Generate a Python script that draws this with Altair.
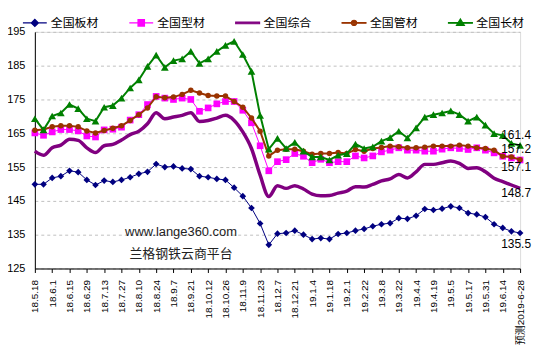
import altair as alt
import pandas as pd

categories = [
    "18.5.18", "18.5.25", "18.6.1", "18.6.8", "18.6.15", "18.6.22", "18.6.29", "18.7.6",
    "18.7.13", "18.7.20", "18.7.27", "18.8.3", "18.8.10", "18.8.17", "18.8.24", "18.8.31",
    "18.9.7", "18.9.14", "18.9.21", "18.9.30", "18.10.12", "18.10.19", "18.10.26", "18.11.2",
    "18.11.9", "18.11.16", "18.11.23", "18.11.30", "18.12.7", "18.12.14", "18.12.21", "18.12.28",
    "19.1.4", "19.1.11", "19.1.18", "19.1.25", "19.2.1", "19.2.15", "19.2.22", "19.3.1",
    "19.3.8", "19.3.15", "19.3.22", "19.3.29", "19.4.4", "19.4.12", "19.4.19", "19.4.26",
    "19.5.5", "19.5.10", "19.5.17", "19.5.24", "19.5.31", "19.6.6", "19.6.14", "19.6.21",
    "预测2019-6-28",
]

banc = [149.9, 149.9, 151.8, 152.3, 153.9, 153.5, 151.2, 149.7, 151.0, 150.6, 151.2, 152.0, 153.0, 153.6, 155.9,
        155.0, 155.2, 154.6, 154.4, 152.3, 152.0, 151.5, 151.2, 148.9, 146.4, 142.9, 138.3, 132.0, 135.3,
        135.5, 136.2, 135.0, 133.7, 134.0, 133.7, 135.2, 135.5, 136.2, 136.7, 137.5, 138.1, 138.4, 139.9,
        139.7, 140.6, 142.6, 142.3, 142.7, 143.4, 142.9, 141.4, 141.0, 140.2, 138.1, 137.0, 136.0, 135.5]
xingc = [165.1, 164.4, 165.4, 166.1, 166.1, 165.7, 164.2, 163.9, 166.0, 166.2, 166.8, 168.9, 170.5, 173.5, 175.9,
         175.4, 175.0, 175.4, 175.0, 171.5, 172.5, 173.7, 174.4, 174.4, 171.8, 168.1, 161.3, 153.9, 156.6,
         157.2, 159.0, 158.2, 156.3, 157.3, 156.3, 156.6, 156.6, 158.3, 157.7, 158.3, 159.5, 160.0, 160.7,
         160.0, 160.0, 159.7, 159.7, 160.3, 160.7, 160.5, 160.2, 160.7, 160.0, 159.2, 158.2, 157.7, 157.1]
zonghe = [159.7, 158.5, 160.7, 161.5, 163.2, 162.9, 160.7, 159.3, 161.3, 161.7, 163.0, 164.6, 165.6, 167.8, 171.1,
          169.3, 169.8, 170.3, 171.1, 168.5, 168.8, 169.5, 170.3, 168.8, 165.4, 160.5, 152.6, 146.3, 149.5,
          148.7, 149.5, 148.5, 147.0, 146.5, 146.6, 147.3, 147.9, 149.2, 149.1, 149.9, 150.9, 151.5, 152.8,
          151.8, 153.6, 155.8, 155.8, 156.3, 156.8, 156.1, 154.6, 154.8, 153.6, 151.7, 150.7, 149.7, 148.7]
guanc = [165.9, 166.1, 166.9, 167.2, 167.2, 166.9, 165.7, 165.1, 165.8, 166.5, 167.2, 168.8, 170.5, 172.5, 175.8,
         175.5, 175.7, 176.5, 177.7, 176.9, 176.2, 176.0, 176.0, 174.4, 172.7, 169.5, 165.6, 158.3, 160.0,
         160.3, 160.3, 159.7, 158.8, 159.0, 159.0, 159.3, 159.0, 160.2, 159.7, 160.5, 160.8, 161.2, 161.0,
         160.7, 160.7, 160.9, 161.2, 161.2, 161.2, 161.5, 161.2, 160.7, 160.5, 160.0, 158.2, 158.0, 157.2]
changc = [169.3, 166.0, 170.1, 171.0, 173.5, 172.3, 169.3, 168.6, 172.7, 173.2, 175.4, 178.4, 180.8, 184.8, 188.1,
          184.5, 186.5, 187.0, 189.2, 185.7, 187.0, 189.2, 191.0, 192.2, 188.3, 183.3, 170.3, 160.3, 163.5,
          160.5, 162.3, 159.7, 158.0, 158.0, 157.1, 158.5, 159.0, 161.8, 160.5, 161.0, 162.7, 163.7, 165.6,
          163.6, 166.6, 169.8, 170.5, 171.0, 171.6, 170.5, 168.6, 169.8, 167.4, 164.9, 164.4, 162.0, 161.4]

series_names = ["全国板材", "全国型材", "全国综合", "全国管材", "全国长材"]
series_values = [banc, xingc, zonghe, guanc, changc]
colors = ["#000080", "#FF00FF", "#800080", "#993300", "#008000"]
line_widths = [1, 1, 3.5, 2, 2]
marker_shapes = ["diamond", "square", None, "circle", "triangle-up"]
marker_sizes = [45, 45, 0, 30, 60]
label_dy = [11, 7.5, 5, -11, -10]
legend_paths = [
    "M-1,0H1M0,-0.3L0.3,0L0,0.3L-0.3,0Z",
    "M-1,0H1M-0.27,-0.27H0.27V0.27H-0.27Z",
    "M-1,-0.07H1V0.07H-1Z",
    "M-1,-0.03H1V0.03H-1ZM-0.22,0A0.22,0.22 0 1,0 0.22,0A0.22,0.22 0 1,0 -0.22,0Z",
    "M-1,-0.03H1V0.03H-1ZM0,-0.33L0.33,0.22H-0.33Z",
]
y_ticks = [125, 135, 145, 155, 165, 175, 185, 195]
watermark = ["www.lange360.com", "兰格钢铁云商平台"]

rows = []
for name, vals in zip(series_names, series_values):
    for c, v in zip(categories, vals):
        rows.append({"date": c, "value": v, "series": name})
df = pd.DataFrame(rows)

FONT = "Liberation Sans, Noto Sans CJK SC"

x_enc = alt.X(
    "date:N", sort=categories, title=None,
    scale=alt.Scale(type="point", padding=0),
    axis=alt.Axis(values=categories[::2], labelAngle=270, labelFontSize=10, labelColor="black",
                  labelFont=FONT, labelOverlap=False, tickSize=4, tickColor="black",
                  domainColor="black", labelPadding=7, grid=False),
)
y_enc = alt.Y(
    "value:Q", title=None,
    scale=alt.Scale(domain=[125, 195], nice=False, zero=False),
    axis=alt.Axis(values=y_ticks, labelFontSize=11, labelColor="black", labelFont=FONT,
                  tickSize=0, labelPadding=10, domainColor="black",
                  grid=True, gridColor="#c0c0c0", gridDash=[3, 3]),
)

base = alt.Chart(df)
layers = []
for i, name in enumerate(series_names):
    sub = base.transform_filter(alt.datum.series == name)
    line = sub.mark_line(color=colors[i], strokeWidth=line_widths[i],
                         interpolate="monotone" if marker_shapes[i] is None else "linear").encode(x=x_enc, y=y_enc)
    layers.append(line)
    if marker_shapes[i] is not None:
        pts = sub.mark_point(shape=marker_shapes[i], filled=True, color=colors[i], opacity=1,
                             size=marker_sizes[i]).encode(x=x_enc, y=y_enc)
        layers.append(pts)

for i, name in enumerate(series_names):
    txt = base.transform_filter(
        (alt.datum.series == name) & (alt.datum.date == categories[-1])
    ).mark_text(dy=label_dy[i], dx=-4, fontSize=12, font=FONT, color="black").encode(
        x=x_enc, y=y_enc, text=alt.Text("value:Q", format=".1f"))
    layers.append(txt)

leg = alt.Legend(title=None, orient="none", direction="horizontal", columns=5, legendX=-13, legendY=-22,
                 symbolSize=576, labelFontSize=12, labelFont=FONT, labelColor="black",
                 columnPadding=27, labelOffset=3, symbolOpacity=1, symbolStrokeWidth=1.2)
legend_layer = base.transform_filter("false").mark_point(opacity=1, size=576).encode(
    fill=alt.Fill("series:N", scale=alt.Scale(domain=series_names, range=colors), legend=leg),
    stroke=alt.Stroke("series:N", scale=alt.Scale(domain=series_names, range=colors), legend=leg),
    shape=alt.Shape("series:N", scale=alt.Scale(domain=series_names, range=legend_paths), legend=leg),
)
layers.append(legend_layer)

wm_df = pd.DataFrame({"t": watermark, "row": [0, 1]})
wm = alt.Chart(wm_df).mark_text(fontSize=13, font=FONT, color="#222222").encode(
    x=alt.value(147), y=alt.value(201), text="t:N"
).transform_filter(alt.datum.row == 0)
wm2 = alt.Chart(wm_df).mark_text(fontSize=13, font=FONT, color="#222222").encode(
    x=alt.value(147), y=alt.value(223), text="t:N"
).transform_filter(alt.datum.row == 1)
layers += [wm, wm2]

chart = alt.layer(*layers).properties(
    width=488, height=238,
    autosize=alt.AutoSizeParams(type="none"),
    padding={"left": 27, "top": 23, "right": 15, "bottom": 85},
).configure_view(stroke=None).configure(background="white")

chart.save("out.html", embed_options={"renderer": "svg", "actions": False})
